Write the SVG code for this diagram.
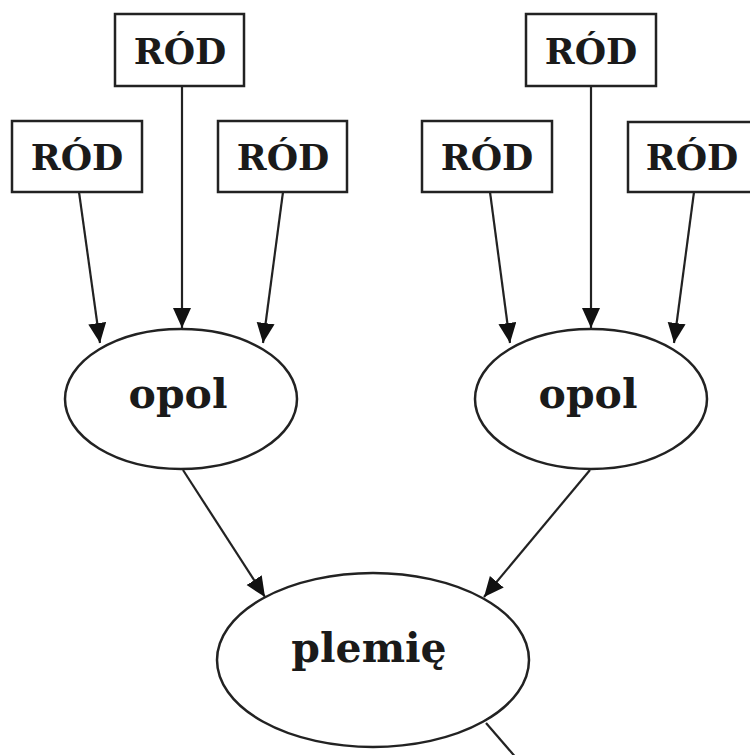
<svg xmlns="http://www.w3.org/2000/svg" width="750" height="755" viewBox="0 0 750 755">
<style>
.box{fill:#fff;stroke:#222;stroke-width:2.5}
.ell{fill:#fff;stroke:#222;stroke-width:2.5}
.t{font-family:"DejaVu Serif","Liberation Serif",serif;font-weight:bold;fill:#1a1a1a;text-anchor:middle}
.rod{font-size:36px}
.big{font-size:41px}
.edge{stroke:#222;stroke-width:2.2;fill:none}
</style>
<defs>
<marker id="ah" markerUnits="userSpaceOnUse" markerWidth="22" markerHeight="22" refX="20" refY="9" orient="auto" viewBox="0 0 22 22">
<path d="M0,0 L20,9 L0,18 z" fill="#111"/>
</marker>
</defs>
<rect width="750" height="755" fill="#fff"/>
<g id="connectors">
<line class="edge" x1="182" y1="86" x2="182" y2="328" marker-end="url(#ah)"/>
<line class="edge" x1="79" y1="192" x2="100" y2="343" marker-end="url(#ah)"/>
<line class="edge" x1="283" y1="192" x2="263" y2="343" marker-end="url(#ah)"/>
<line class="edge" x1="591" y1="86" x2="591" y2="328" marker-end="url(#ah)"/>
<line class="edge" x1="490" y1="192" x2="510" y2="343" marker-end="url(#ah)"/>
<line class="edge" x1="694" y1="192" x2="674" y2="343" marker-end="url(#ah)"/>
<line class="edge" x1="183" y1="470" x2="265" y2="597" marker-end="url(#ah)"/>
<line class="edge" x1="590" y1="470" x2="484" y2="597" marker-end="url(#ah)"/>
<line class="edge" x1="486" y1="723" x2="518" y2="760"/>
</g>
<g id="rod1"><rect class="box" x="115" y="14" width="129" height="72"/><text class="t rod" x="180" y="64">RÓD</text></g>
<g id="rod2"><rect class="box" x="12" y="121" width="130" height="71"/><text class="t rod" x="77" y="170">RÓD</text></g>
<g id="rod3"><rect class="box" x="218" y="121" width="129" height="71"/><text class="t rod" x="283" y="170">RÓD</text></g>
<g id="rod4"><rect class="box" x="526" y="14" width="130" height="72"/><text class="t rod" x="591" y="64">RÓD</text></g>
<g id="rod5"><rect class="box" x="422" y="121" width="130" height="71"/><text class="t rod" x="487" y="170">RÓD</text></g>
<g id="rod6"><rect class="box" x="628" y="122" width="130" height="70"/><text class="t rod" x="692" y="170">RÓD</text></g>
<g id="opol1"><ellipse class="ell" cx="181" cy="399" rx="116" ry="70"/><text class="t big" x="178" y="408">opol</text></g>
<g id="opol2"><ellipse class="ell" cx="591" cy="399" rx="116" ry="70"/><text class="t big" x="588" y="408">opol</text></g>
<g id="plemie"><ellipse class="ell" cx="373" cy="660" rx="156" ry="87"/><text class="t big" x="369" y="662">plemię</text></g>
</svg>
